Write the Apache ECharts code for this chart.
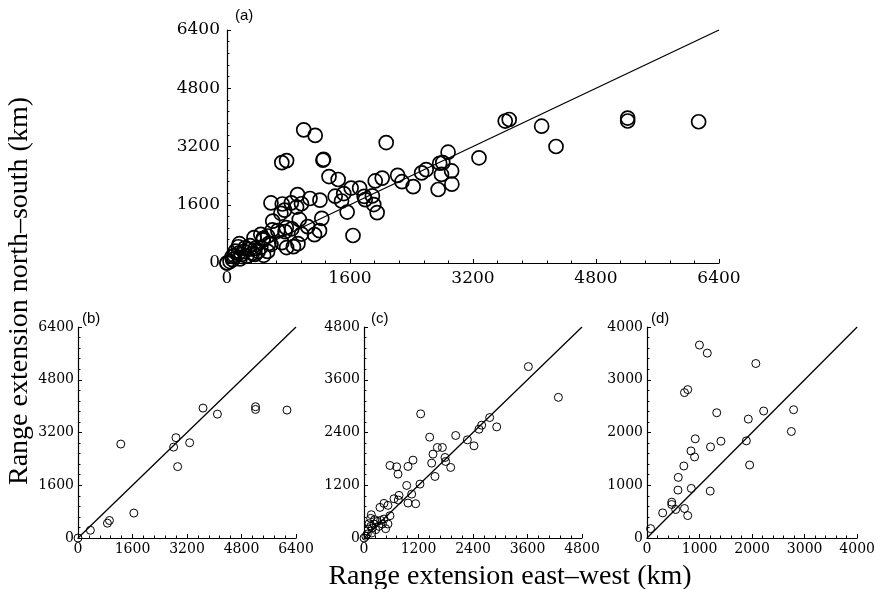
<!DOCTYPE html>
<html>
<head>
<meta charset="utf-8">
<script src="https://cdn.jsdelivr.net/npm/echarts@6/dist/echarts.min.js"></script>
<style>
html,body{margin:0;padding:0;background:#fff;}
#chart{width:878px;height:589px;}
</style>
</head>
<body>
<div id="chart"></div>
<script>
// Panel (b) points [east-west, north-south] km
var pointsB = [
  [0,0],[363,235],[864,449],[923,531],[1256,2849],[1639,756],[2807,2757],[2876,3043],
  [2925,2165],[3278,2890],[3671,3941],[4093,3757],[5212,3982],[5212,3900],[6135,3880]
];
// Panel (c) points
var pointsC = [
  [0,0],[3619,3899],[4280,3200],[1248,2824],[1446,2294],[1519,1908],[1490,1703],[1563,1400],
  [1615,2059],[1725,2059],[1784,1832],[1798,1741],[1909,1605],[2019,2332],[2276,2233],
  [2422,2097],[2532,2475],[2591,2566],[2767,2740],[2922,2528],[572,1650],[719,1620],
  [749,1453],[969,1628],[1079,1771],[940,1196],[1050,999],[1233,1226],[969,795],[1138,780],
  [771,969],[756,863],[661,893],[528,742],[440,787],[352,696],[572,507],[528,318],
  [161,530],[147,447],[95,204],[110,325],[73,91],[183,227],[220,318],[294,378],[367,401],
  [404,318],[440,431],[330,265],[257,189],[169,114],[477,212],[235,416],[147,265],[40,40]
];
// Panel (d) points
var pointsD = [
  [68,178],[298,476],[471,679],[471,635],[546,540],[713,559],[775,425],[589,908],[595,1149],
  [701,1365],[843,940],[837,1651],[905,1537],[918,1880],[1203,889],[1209,1727],[1407,1835],
  [1327,2375],[713,2756],[775,2813],[998,3658],[1147,3505],[2071,3308],[1928,2254],
  [1891,1842],[1953,1384],[2220,2407],[2790,2432],[2747,2019]
];
// Panel (a) combines all points
var pointsA = pointsB.concat(pointsC, pointsD);

// 1:1 reference lines
var lineA = [[0,0],[6400,6400]];
var lineB = [[0,0],[6400,6400]];
var lineC = [[0,0],[4800,4800]];
var lineD = [[0,0],[4000,4000]];

// Axis ranges and tick intervals
var maxA = 6400, tickA = 1600;
var maxB = 6400, tickB = 1600;
var maxC = 4800, tickC = 1200;
var maxD = 4000, tickD = 1000;

var yTitle = 'Range extension north\u2013south (km)';
var xTitle = 'Range extension east\u2013west (km)';
var panelLabels = ['(a)','(b)','(c)','(d)'];

var tickFont = 'DejaVu Serif';

function axis(max, interval, idx, fs, margin) {
  return {
    type: 'value', gridIndex: idx, min: 0, max: max, interval: interval,
    axisLine: {show: true, onZero: false, lineStyle: {color: '#000', width: 1.2}},
    axisTick: {show: true, inside: true, length: 4, lineStyle: {color: '#000', width: 1}},
    minorTick: {show: true, splitNumber: 5, length: 2.5, lineStyle: {color: '#000', width: 1}},
    splitLine: {show: false},
    axisLabel: {color: '#000', fontFamily: tickFont, fontSize: fs, margin: margin,
      formatter: function (v) { return String(v); }}
  };
}

var grids = [
  {left: 227, top: 30, width: 492, height: 233},
  {left: 78, top: 327, width: 218, height: 211},
  {left: 364, top: 327, width: 218, height: 211},
  {left: 647, top: 327, width: 216, height: 211}
];

function scat(data, idx, size, bw) {
  return {
    type: 'scatter', xAxisIndex: idx, yAxisIndex: idx, data: data, symbol: 'circle',
    symbolSize: size, clip: false, silent: true,
    itemStyle: {color: 'rgba(0,0,0,0)', borderColor: '#000', borderWidth: bw, opacity: 1}
  };
}
function ln(data, idx) {
  return {
    type: 'line', xAxisIndex: idx, yAxisIndex: idx, data: data, symbol: 'none',
    lineStyle: {color: '#000', width: 1.3}, silent: true, z: 1
  };
}

var chart = echarts.init(document.getElementById('chart'), null, {renderer: 'canvas'});
chart.setOption({
  animation: false,
  backgroundColor: '#fff',
  grid: grids,
  xAxis: [axis(maxA, tickA, 0, 17, 7), axis(maxB, tickB, 1, 14, 4), axis(maxC, tickC, 2, 14, 4), axis(maxD, tickD, 3, 14, 4)],
  yAxis: [axis(maxA, tickA, 0, 17, 7), axis(maxB, tickB, 1, 14, 4), axis(maxC, tickC, 2, 14, 4), axis(maxD, tickD, 3, 14, 4)],
  series: [
    ln(lineA, 0), scat(pointsA, 0, 14, 1.7),
    ln(lineB, 1), scat(pointsB, 1, 8, 1),
    ln(lineC, 2), scat(pointsC, 2, 8, 1),
    ln(lineD, 3), scat(pointsD, 3, 8, 1)
  ],
  graphic: [
    {type: 'text', x: 235, y: 8, style: {text: panelLabels[0], font: '15px "Liberation Sans"', fill: '#000'}},
    {type: 'text', x: 82, y: 311, style: {text: panelLabels[1], font: '15px "Liberation Sans"', fill: '#000'}},
    {type: 'text', x: 371, y: 311, style: {text: panelLabels[2], font: '15px "Liberation Sans"', fill: '#000'}},
    {type: 'text', x: 651, y: 311, style: {text: panelLabels[3], font: '15px "Liberation Sans"', fill: '#000'}},
    {type: 'text', x: 20, y: 291, rotation: Math.PI / 2,
      style: {text: yTitle, font: '28px "Liberation Serif"', fill: '#000', textAlign: 'center', textVerticalAlign: 'middle'}},
    {type: 'text', x: 510, y: 577,
      style: {text: xTitle, font: '28px "Liberation Serif"', fill: '#000', textAlign: 'center', textVerticalAlign: 'middle'}}
  ]
});
</script>
</body>
</html>
